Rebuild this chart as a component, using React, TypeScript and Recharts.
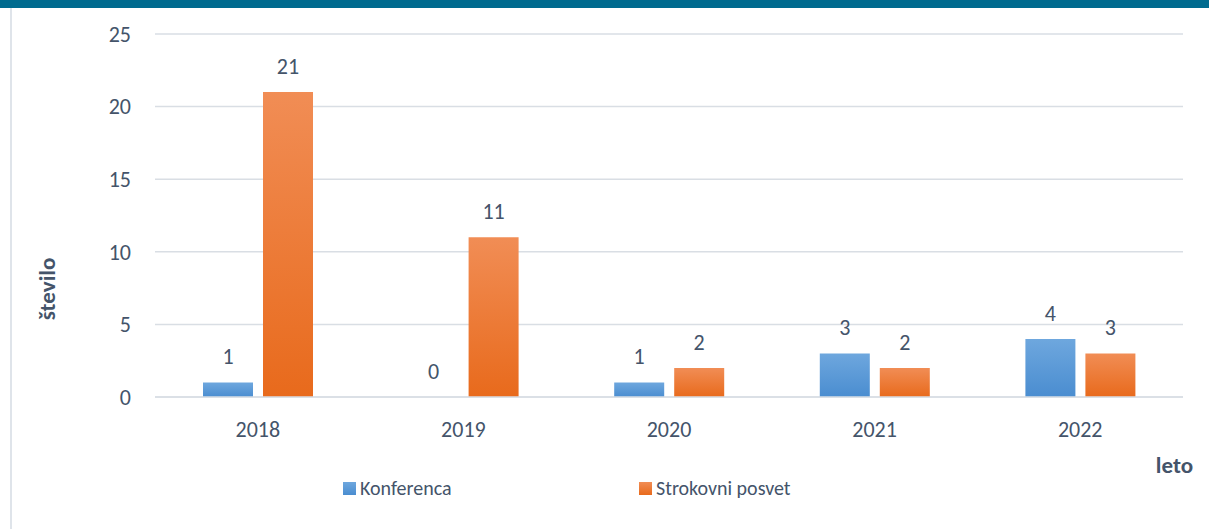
import React from 'react';
import {
  BarChart,
  Bar,
  XAxis,
  YAxis,
  CartesianGrid,
  Legend,
  LabelList,
  Label,
} from 'recharts';

// podatki z grafa
const years = ['2018', '2019', '2020', '2021', '2022'];
const konferenca = [1, 0, 1, 3, 4];
const strokovniPosvet = [21, 11, 2, 2, 3];
const yTicks = [0, 5, 10, 15, 20, 25];

const data = years.map((leto, i) => ({
  leto,
  Konferenca: konferenca[i],
  'Strokovni posvet': strokovniPosvet[i],
}));

const FONT = 'Calibri, Carlito, "Open Sans", sans-serif';
const TEXT = '#44546a';

const legendItems = [
  { name: 'Konferenca', left: 343, bg: 'linear-gradient(#6ea7de, #4a8dd0)' },
  { name: 'Strokovni posvet', left: 639, bg: 'linear-gradient(#f18d55, #e86a1c)' },
];

// ničelni stolpec mora ostati, da se izpiše oznaka "0"
const keepZero = (value: any) => (value === 0 ? 0.01 : 0);

function LegendBox() {
  return (
    <div style={{ position: 'relative', width: 1209, height: 24 }}>
      {legendItems.map((it) => (
        <div
          key={it.name}
          style={{
            position: 'absolute',
            left: it.left,
            top: 0,
            height: 24,
            display: 'flex',
            alignItems: 'center',
            fontFamily: FONT,
            fontSize: 20,
            color: TEXT,
          }}
        >
          <span
            style={{
              display: 'inline-block',
              width: 13,
              height: 13,
              marginRight: 4,
              background: it.bg,
            }}
          />
          {it.name}
        </div>
      ))}
    </div>
  );
}

export default function App() {
  return (
    <div
      style={{
        position: 'absolute',
        left: 0,
        top: 0,
        width: 1209,
        height: 529,
        background: '#fff',
        overflow: 'hidden',
      }}
    >
      {/* odrezan naslov zgoraj */}
      <div style={{ position: 'absolute', left: 0, top: 0, width: 1209, height: 8, background: '#006b8f' }} />
      {/* levi rob okvirja */}
      <div style={{ position: 'absolute', left: 10, top: 8, width: 2, height: 521, background: '#dfe4ea' }} />

      <div style={{ position: 'absolute', left: 0, top: 0 }}>
        <BarChart
          width={1209}
          height={529}
          data={data}
          margin={{ top: 34, right: 26, bottom: 78, left: 95 }}
          barCategoryGap={48}
          barGap={10}
        >
          <defs>
            <linearGradient id="gradBlue" x1="0" y1="0" x2="0" y2="1">
              <stop offset="0%" stopColor="#6ea7de" />
              <stop offset="100%" stopColor="#4a8dd0" />
            </linearGradient>
            <linearGradient id="gradOrange" x1="0" y1="0" x2="0" y2="1">
              <stop offset="0%" stopColor="#f18d55" />
              <stop offset="100%" stopColor="#e86a1c" />
            </linearGradient>
          </defs>
          <CartesianGrid vertical={false} stroke="#d9dee4" strokeWidth={1.5} />
          <XAxis
            dataKey="leto"
            axisLine={{ stroke: '#d9dee4', strokeWidth: 1.5 }}
            tickLine={false}
            tickMargin={18}
            height={30}
            tick={{ fill: TEXT, fontSize: 22, fontFamily: FONT }}
          >
            <Label
              content={() => (
                <text
                  x={1193}
                  y={473}
                  textAnchor="end"
                  fill={TEXT}
                  fontSize={23}
                  fontWeight="bold"
                  fontFamily={FONT}
                >
                  leto
                </text>
              )}
            />
          </XAxis>
          <YAxis
            width={60}
            domain={[0, 25]}
            ticks={yTicks}
            axisLine={false}
            tickLine={false}
            tickMargin={18}
            tick={{ fill: TEXT, fontSize: 22, fontFamily: FONT }}
          >
            <Label
              content={() => (
                <text
                  x={47}
                  y={289}
                  transform="rotate(-90, 47, 289)"
                  textAnchor="middle"
                  dominantBaseline="central"
                  fill={TEXT}
                  fontSize={23}
                  fontWeight="bold"
                  fontFamily={FONT}
                >
                  število
                </text>
              )}
            />
          </YAxis>
          <Legend
            content={() => <LegendBox />}
            wrapperStyle={{ position: 'absolute', left: 0, top: 476, width: 1209 }}
          />
          <Bar
            dataKey="Konferenca"
            fill="url(#gradBlue)"
            minPointSize={keepZero}
            isAnimationActive={false}
          >
            <LabelList
              dataKey="Konferenca"
              position="top"
              offset={18}
              fill={TEXT}
              fontSize={22}
              fontFamily={FONT}
            />
          </Bar>
          <Bar dataKey="Strokovni posvet" fill="url(#gradOrange)" isAnimationActive={false}>
            <LabelList
              dataKey="Strokovni posvet"
              position="top"
              offset={18}
              fill={TEXT}
              fontSize={22}
              fontFamily={FONT}
            />
          </Bar>
        </BarChart>
      </div>
    </div>
  );
}
